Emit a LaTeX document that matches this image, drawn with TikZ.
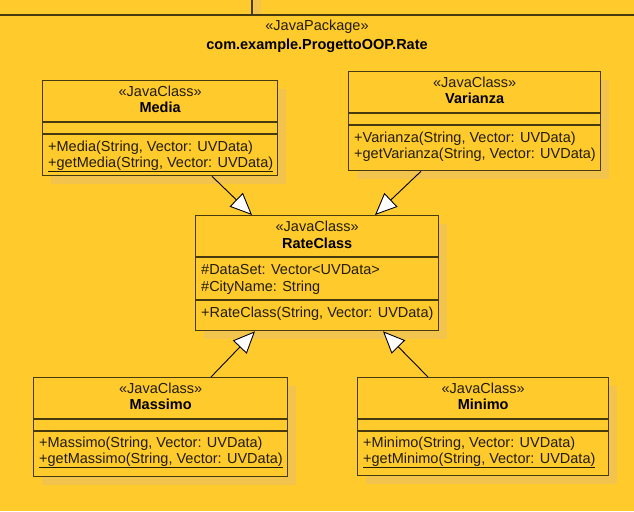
\documentclass[tikz,border=0pt]{standalone}
\usepackage{fontspec}
\setmainfont{Liberation Sans}
\usetikzlibrary{arrows.meta,shadows}
\definecolor{bgc}{HTML}{FFCA2C}
\definecolor{shc}{HTML}{F2C44E}
\definecolor{brd}{HTML}{463A0E}
\definecolor{txt}{HTML}{221D0A}
\tikzset{
  cls/.style={draw=brd, line width=1.3pt, fill=bgc, anchor=north west, inner sep=0pt,
    drop shadow={shadow xshift=8pt, shadow yshift=-8pt, fill=shc, opacity=1}},
  sep/.style={draw=brd, line width=1.3pt},
  stereo/.style={anchor=base, inner sep=0pt, text=txt, font=\fontsize{14.5}{16}\selectfont},
  cname/.style={anchor=base, inner sep=0pt, text=black, font=\fontsize{14.5}{16}\selectfont\bfseries},
  member/.style={anchor=base west, inner sep=0pt, text=txt, font=\fontsize{14.5}{16}\selectfont},
  inh/.style={draw=black, line width=0.9pt, -{Triangle[open, length=22pt, width=19pt, fill=white, line width=0.9pt]}},
}
\newcommand{\ul}[1]{\underline{#1}}
\begin{document}
\begin{tikzpicture}[x=1pt,y=-1pt]
\fill[bgc] (0,0) rectangle (634,511);
\useasboundingbox (0,0) rectangle (634,511);
% package tab
\fill[shc] (253.5,0) rectangle (261,14);
\coordinate (tabtop) at (252,0);
\coordinate (tabbot) at (252,15);
\coordinate (pl) at (0,15);
\coordinate (pr) at (634,15);
\draw[brd, line width=1.3pt] (pl) -- (pr);
\draw[brd, line width=1.3pt] (tabtop) -- (tabbot);
\node[stereo] (pkst) at (317,31) {«JavaPackage»};
\node[cname] (pkname) at (317,49) {com.example.ProgettoOOP.Rate};

% Media
\node[cls, minimum width=235pt, minimum height=95pt] (media) at (42,80) {};
\draw[sep] ([yshift=-42pt]media.north west) -- ([yshift=-42pt]media.north east);
\draw[sep] ([yshift=-54pt]media.north west) -- ([yshift=-54pt]media.north east);
\node[stereo] (mediast) at ([yshift=-16pt]media.north) {«JavaClass»};
\node[cname] (medianm) at ([yshift=-32.5pt]media.north) {Media};
\node[member] (mediam1) at ([shift={(6pt,-71pt)}]media.north west) {+Media(String, Vector: UVData)};
\node[member] (mediam2) at ([shift={(6pt,-87pt)}]media.north west) {\ul{+getMedia(String, Vector: UVData)}};

% Varianza
\node[cls, minimum width=252pt, minimum height=99pt] (varianza) at (348,71) {};
\draw[sep] ([yshift=-42pt]varianza.north west) -- ([yshift=-42pt]varianza.north east);
\draw[sep] ([yshift=-54pt]varianza.north west) -- ([yshift=-54pt]varianza.north east);
\node[stereo] (varst) at ([yshift=-16pt]varianza.north) {«JavaClass»};
\node[cname] (varnm) at ([yshift=-32.5pt]varianza.north) {Varianza};
\node[member] (varm1) at ([shift={(6pt,-71pt)}]varianza.north west) {+Varianza(String, Vector: UVData)};
\node[member] (varm2) at ([shift={(6pt,-87pt)}]varianza.north west) {+getVarianza(String, Vector: UVData)};

% RateClass
\node[cls, minimum width=243pt, minimum height=115pt] (rate) at (195,215) {};
\draw[sep] ([yshift=-42pt]rate.north west) -- ([yshift=-42pt]rate.north east);
\draw[sep] ([yshift=-85pt]rate.north west) -- ([yshift=-85pt]rate.north east);
\node[stereo] (ratest) at ([yshift=-16pt]rate.north) {«JavaClass»};
\node[cname] (ratenm) at ([yshift=-33pt]rate.north) {RateClass};
\node[member] (ratea1) at ([shift={(6pt,-59pt)}]rate.north west) {\#DataSet: Vector<UVData>};
\node[member] (ratea2) at ([shift={(6pt,-76pt)}]rate.north west) {\#CityName: String};
\node[member] (ratem1) at ([shift={(6pt,-102pt)}]rate.north west) {+RateClass(String, Vector: UVData)};

% Massimo
\node[cls, minimum width=254pt, minimum height=99pt] (massimo) at (33,377) {};
\draw[sep] ([yshift=-42pt]massimo.north west) -- ([yshift=-42pt]massimo.north east);
\draw[sep] ([yshift=-54pt]massimo.north west) -- ([yshift=-54pt]massimo.north east);
\node[stereo] (masst) at ([yshift=-16pt]massimo.north) {«JavaClass»};
\node[cname] (masnm) at ([yshift=-32.5pt]massimo.north) {Massimo};
\node[member] (masm1) at ([shift={(6pt,-70pt)}]massimo.north west) {+Massimo(String, Vector: UVData)};
\node[member] (masm2) at ([shift={(6pt,-86pt)}]massimo.north west) {\ul{+getMassimo(String, Vector: UVData)}};

% Minimo
\node[cls, minimum width=251pt, minimum height=98pt] (minimo) at (357,377) {};
\draw[sep] ([yshift=-42pt]minimo.north west) -- ([yshift=-42pt]minimo.north east);
\draw[sep] ([yshift=-54pt]minimo.north west) -- ([yshift=-54pt]minimo.north east);
\node[stereo] (minst) at ([yshift=-16pt]minimo.north) {«JavaClass»};
\node[cname] (minnm) at ([yshift=-32.5pt]minimo.north) {Minimo};
\node[member] (minm1) at ([shift={(6pt,-70pt)}]minimo.north west) {+Minimo(String, Vector: UVData)};
\node[member] (minm2) at ([shift={(6pt,-86pt)}]minimo.north west) {\ul{+getMinimo(String, Vector: UVData)}};

% inheritance arrows
\draw[inh] ([xshift=170pt]media.south west) -- ([xshift=57pt]rate.north west);
\draw[inh] ([xshift=73pt]varianza.south west) -- ([xshift=180pt]rate.north west);
\draw[inh] ([xshift=178pt]massimo.north west) -- ([xshift=60pt]rate.south west);
\draw[inh] ([xshift=71pt]minimo.north west) -- ([xshift=188pt]rate.south west);
\end{tikzpicture}
\end{document}
